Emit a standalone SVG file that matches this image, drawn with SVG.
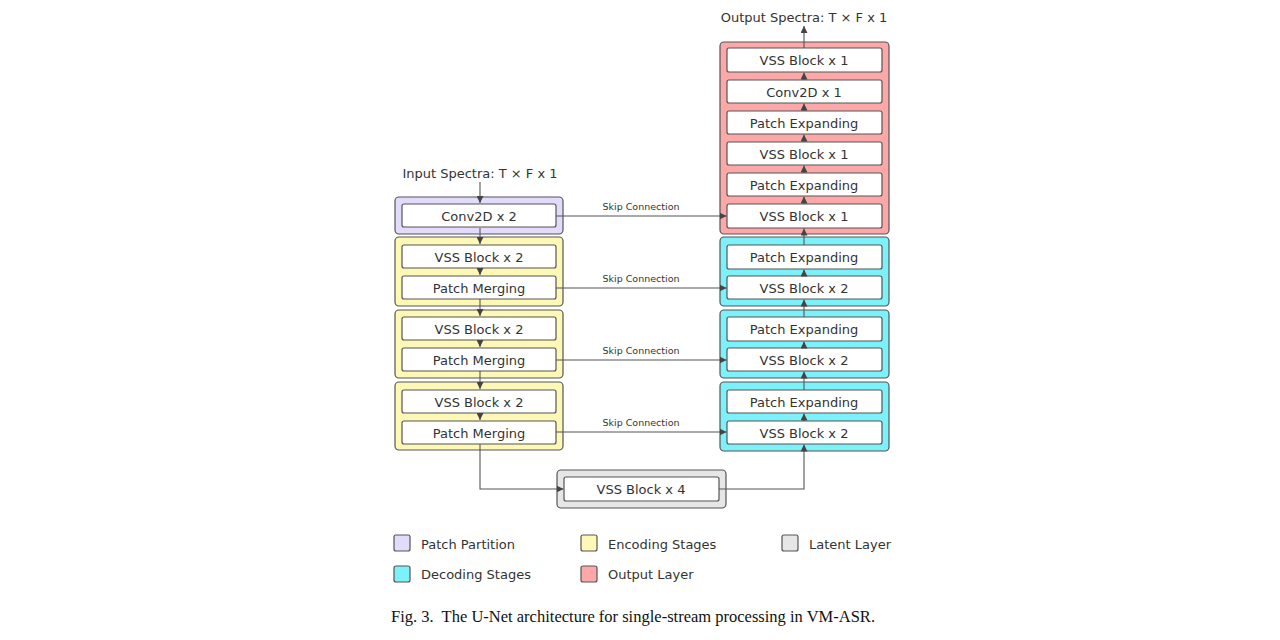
<svg xmlns="http://www.w3.org/2000/svg" width="1280" height="640" viewBox="0 0 1280 640">
<defs>
<marker id="ah" viewBox="0 0 10 10" refX="10" refY="5" markerWidth="7" markerHeight="7" markerUnits="userSpaceOnUse" orient="auto"><path d="M0,0 L10,5 L0,10 z" fill="#444"/></marker>
<style>
.outer{stroke:#555;stroke-width:1.2}
.inner{fill:#fff;stroke:#555;stroke-width:1.2}
.pp{fill:#e2dbfc}.enc{fill:#fdf8b6}.dec{fill:#7cf1fa}.out{fill:#fca8a8}.lat{fill:#e6e6e6}
.t{font-family:"DejaVu Sans",sans-serif;font-size:13px;fill:#333;text-anchor:middle}
.s{font-family:"DejaVu Sans",sans-serif;font-size:9.5px;fill:#333;text-anchor:middle}
.lg{font-family:"DejaVu Sans",sans-serif;font-size:13px;fill:#333}
.c{fill:none;stroke:#555;stroke-width:1.1;marker-end:url(#ah)}
</style>
</defs>
<rect width="1280" height="640" fill="#fff"/>

<text class="t" x="480" y="178">Input Spectra: T × F x 1</text>
<text class="t" x="804" y="22">Output Spectra: T × F x 1</text>

<g id="patch-partition">
<rect class="outer pp" x="395" y="197" width="168" height="37" rx="4"/>
<rect class="inner" x="402" y="204" width="154" height="23" rx="2"/>
<text class="t" x="479" y="220.5">Conv2D x 2</text>
</g>

<g id="enc1">
<rect class="outer enc" x="395" y="237" width="168" height="69" rx="4"/>
<rect class="inner" x="402" y="245" width="154" height="23" rx="2"/>
<text class="t" x="479" y="261.5">VSS Block x 2</text>
<rect class="inner" x="402" y="276" width="154" height="23" rx="2"/>
<text class="t" x="479" y="292.5">Patch Merging</text>
</g>

<g id="enc2">
<rect class="outer enc" x="395" y="310" width="168" height="68" rx="4"/>
<rect class="inner" x="402" y="317" width="154" height="23" rx="2"/>
<text class="t" x="479" y="333.5">VSS Block x 2</text>
<rect class="inner" x="402" y="348" width="154" height="23" rx="2"/>
<text class="t" x="479" y="364.5">Patch Merging</text>
</g>

<g id="enc3">
<rect class="outer enc" x="395" y="382" width="168" height="68" rx="4"/>
<rect class="inner" x="402" y="390" width="154" height="23" rx="2"/>
<text class="t" x="479" y="406.5">VSS Block x 2</text>
<rect class="inner" x="402" y="421" width="154" height="23" rx="2"/>
<text class="t" x="479" y="437.5">Patch Merging</text>
</g>

<g id="latent">
<rect class="outer lat" x="557" y="470" width="169" height="38" rx="4"/>
<rect class="inner" x="564" y="477" width="155" height="24" rx="2"/>
<text class="t" x="641" y="494">VSS Block x 4</text>
</g>

<g id="dec3">
<rect class="outer dec" x="720" y="382" width="169" height="69" rx="4"/>
<rect class="inner" x="727" y="390" width="155" height="23" rx="2"/>
<text class="t" x="804" y="406.5">Patch Expanding</text>
<rect class="inner" x="727" y="421" width="155" height="23" rx="2"/>
<text class="t" x="804" y="437.5">VSS Block x 2</text>
</g>

<g id="dec2">
<rect class="outer dec" x="720" y="310" width="169" height="68" rx="4"/>
<rect class="inner" x="727" y="317" width="155" height="24" rx="2"/>
<text class="t" x="804" y="334">Patch Expanding</text>
<rect class="inner" x="727" y="348" width="155" height="23" rx="2"/>
<text class="t" x="804" y="364.5">VSS Block x 2</text>
</g>

<g id="dec1">
<rect class="outer dec" x="720" y="237" width="169" height="69" rx="4"/>
<rect class="inner" x="727" y="245" width="155" height="24" rx="2"/>
<text class="t" x="804" y="262">Patch Expanding</text>
<rect class="inner" x="727" y="276" width="155" height="23" rx="2"/>
<text class="t" x="804" y="292.5">VSS Block x 2</text>
</g>

<g id="output-layer">
<rect class="outer out" x="720" y="42" width="169" height="192" rx="4"/>
<rect class="inner" x="727" y="48" width="155" height="24" rx="2"/>
<text class="t" x="804" y="65">VSS Block x 1</text>
<rect class="inner" x="727" y="80" width="155" height="23" rx="2"/>
<text class="t" x="804" y="96.5">Conv2D x 1</text>
<rect class="inner" x="727" y="111" width="155" height="23" rx="2"/>
<text class="t" x="804" y="127.5">Patch Expanding</text>
<rect class="inner" x="727" y="142" width="155" height="23" rx="2"/>
<text class="t" x="804" y="158.5">VSS Block x 1</text>
<rect class="inner" x="727" y="173" width="155" height="23" rx="2"/>
<text class="t" x="804" y="189.5">Patch Expanding</text>
<rect class="inner" x="727" y="204" width="155" height="24" rx="2"/>
<text class="t" x="804" y="221">VSS Block x 1</text>
</g>

<g id="connectors">
<path class="c" d="M480,182 V203"/>
<path class="c" d="M480,228 V244"/>
<path class="c" d="M480,268 V275"/>
<path class="c" d="M480,299 V316"/>
<path class="c" d="M480,340 V347"/>
<path class="c" d="M480,371 V389"/>
<path class="c" d="M480,413 V420"/>
<path class="c" d="M480,444 V489 H563.5"/>
<path class="c" d="M719,489 H804 V444.5"/>
<path class="c" d="M804,421 V413.5"/>
<path class="c" d="M804,390 V371.5"/>
<path class="c" d="M804,348 V341.5"/>
<path class="c" d="M804,317 V299.5"/>
<path class="c" d="M804,276 V269.5"/>
<path class="c" d="M804,245 V228.5"/>
<path class="c" d="M804,204 V196.5"/>
<path class="c" d="M804,173 V165.5"/>
<path class="c" d="M804,142 V134.5"/>
<path class="c" d="M804,111 V103.5"/>
<path class="c" d="M804,80 V72.5"/>
<path class="c" d="M804,48 V26"/>
<path class="c" d="M556,216 H726.5"/>
<path class="c" d="M556,288 H726.5"/>
<path class="c" d="M556,360 H726.5"/>
<path class="c" d="M556,432 H726.5"/>
<text class="s" x="641" y="210">Skip Connection</text>
<text class="s" x="641" y="282">Skip Connection</text>
<text class="s" x="641" y="354">Skip Connection</text>
<text class="s" x="641" y="426">Skip Connection</text>
</g>

<g id="legend">
<rect class="outer pp" x="394" y="535" width="16" height="16" rx="2"/>
<text class="lg" x="421" y="548.5">Patch Partition</text>
<rect class="outer enc" x="581" y="535" width="16" height="16" rx="2"/>
<text class="lg" x="608" y="548.5">Encoding Stages</text>
<rect class="outer lat" x="782" y="535" width="16" height="16" rx="2"/>
<text class="lg" x="809" y="548.5">Latent Layer</text>
<rect class="outer dec" x="394" y="566" width="16" height="16" rx="2"/>
<text class="lg" x="421" y="579">Decoding Stages</text>
<rect class="outer out" x="581" y="566" width="16" height="16" rx="2"/>
<text class="lg" x="608" y="579">Output Layer</text>
</g>

<text x="391" y="622" style="font-family:'Liberation Serif',serif;font-size:16.5px;fill:#111" xml:space="preserve" textLength="484" lengthAdjust="spacing">Fig. 3.  The U-Net architecture for single-stream processing in VM-ASR.</text>
</svg>
